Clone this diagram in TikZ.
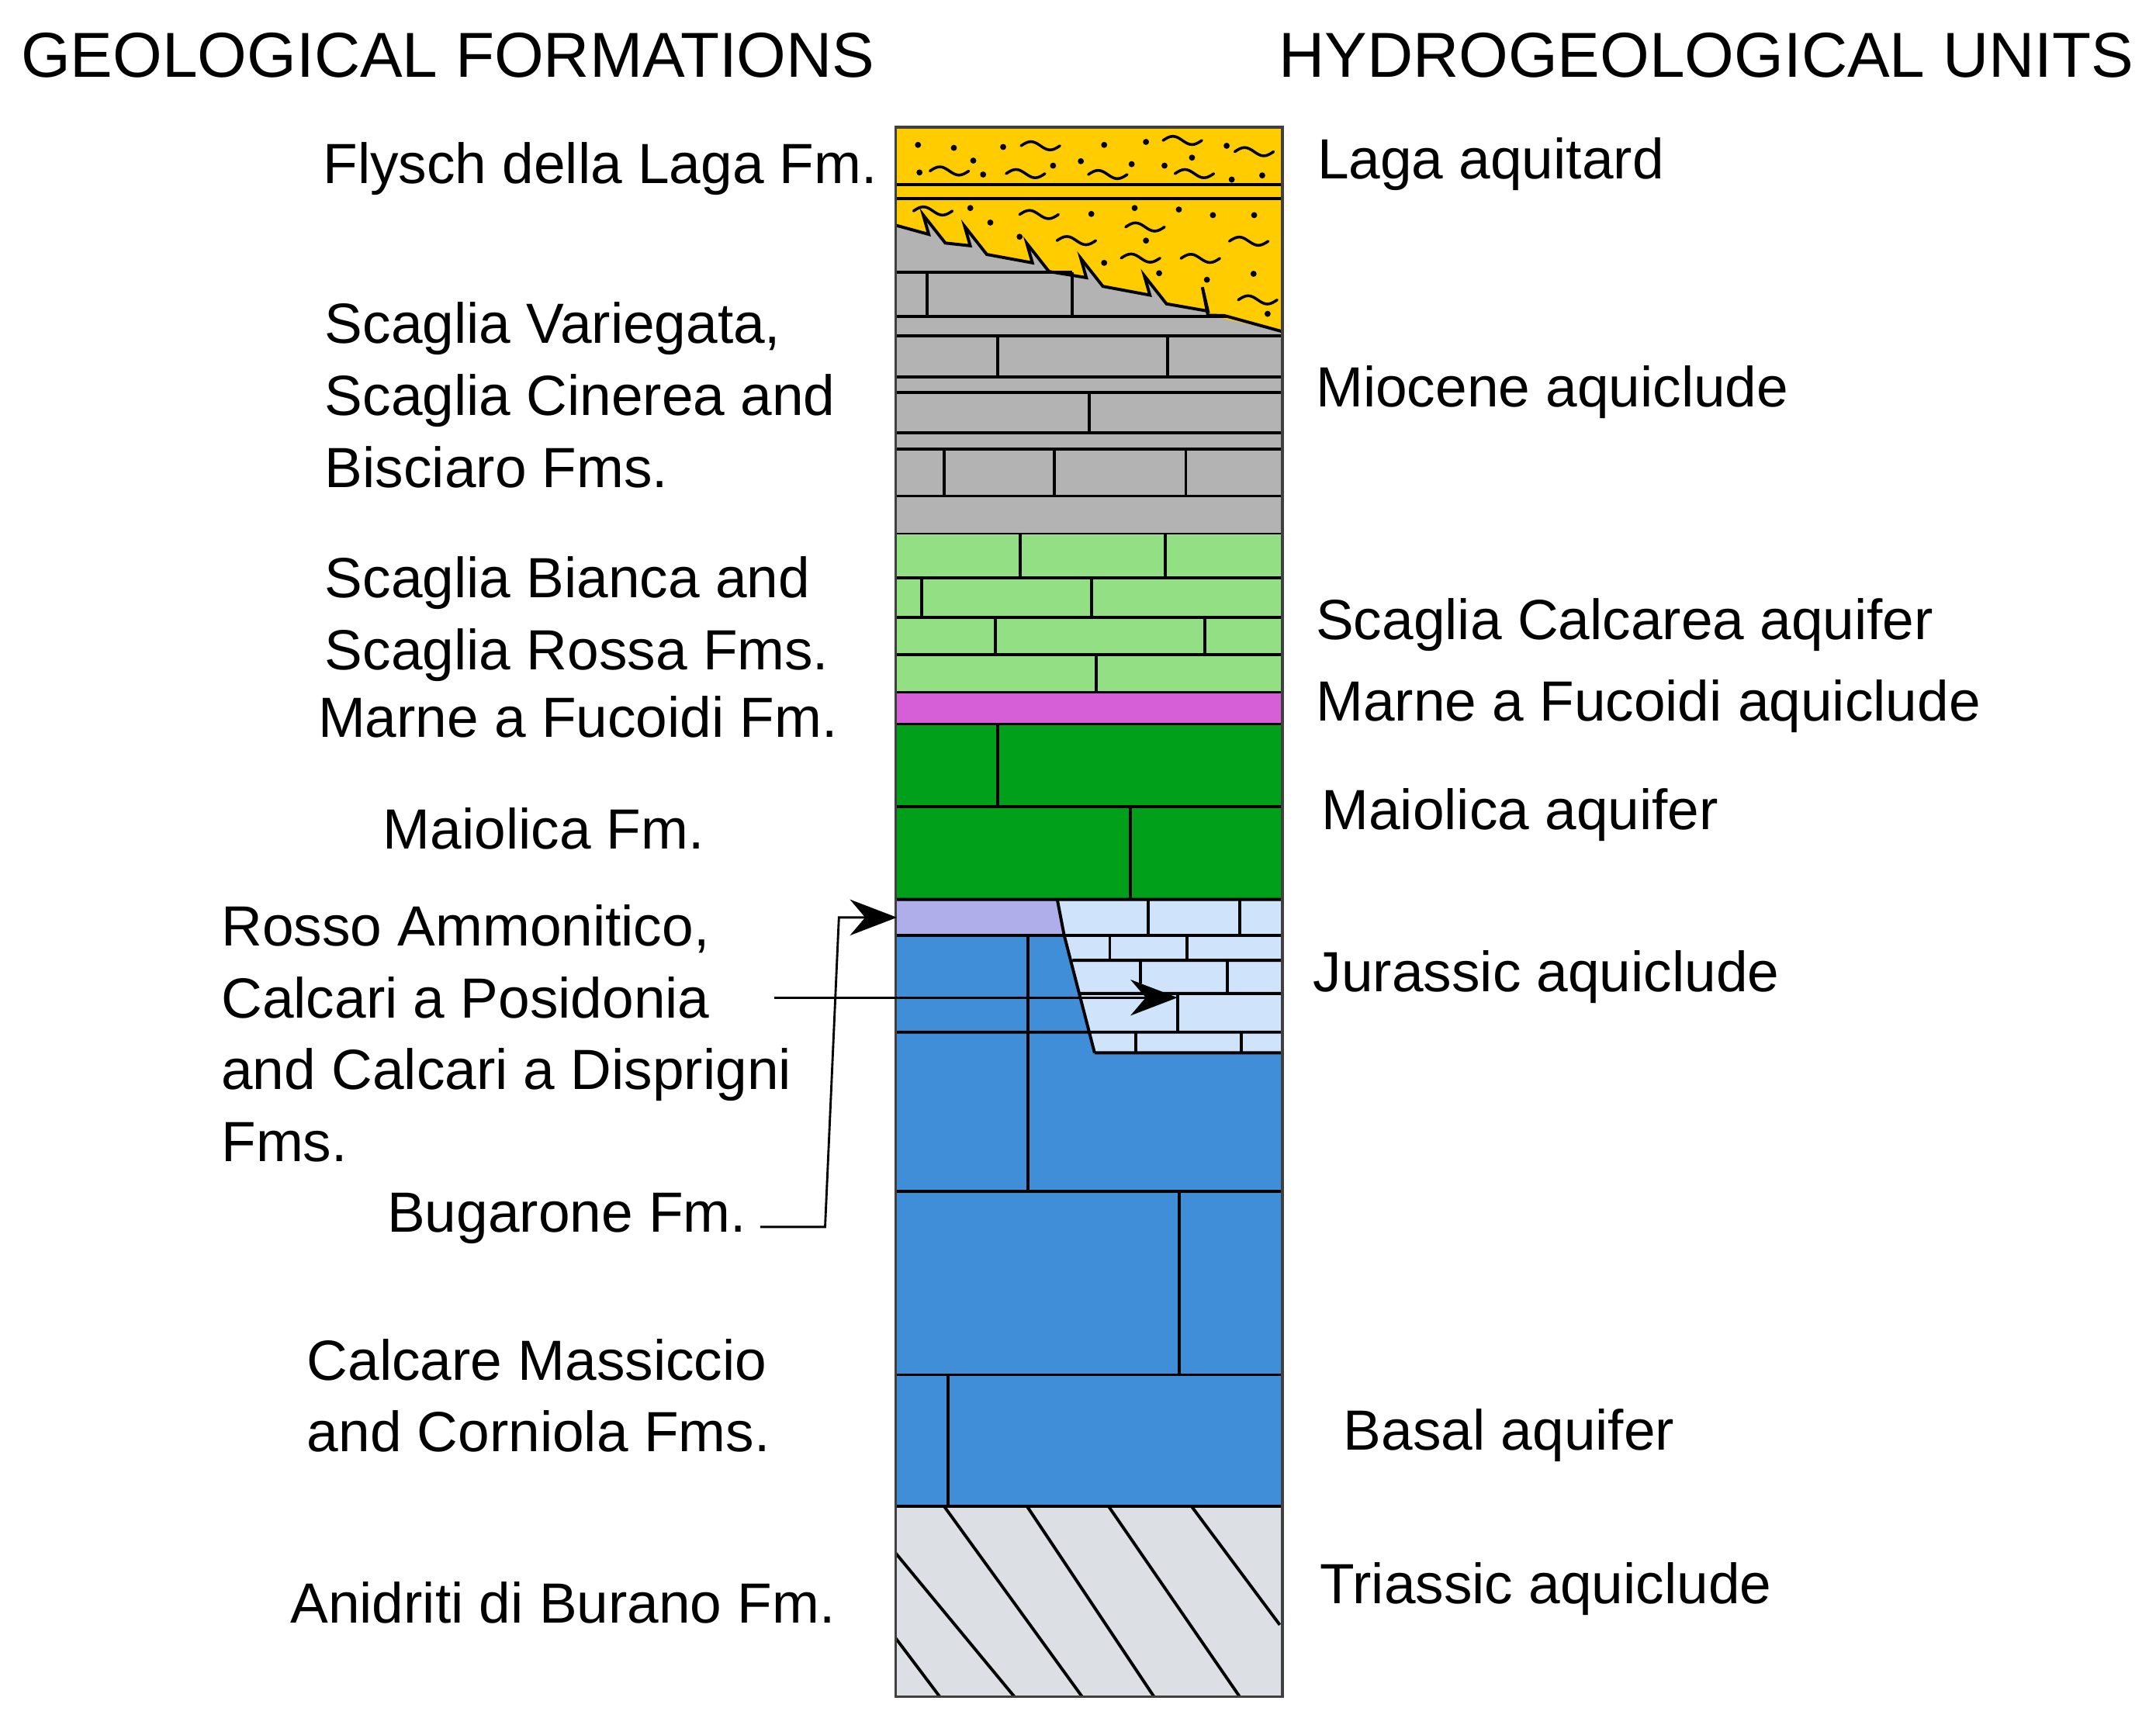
\documentclass[tikz,border=0pt]{standalone}
\usepackage{fontspec}
\setmainfont{Liberation Sans}
\usetikzlibrary{arrows.meta}
\definecolor{cYel}{HTML}{FFCC00}
\definecolor{cGry}{HTML}{B3B3B3}
\definecolor{cLgr}{HTML}{92E083}
\definecolor{cMag}{HTML}{D65ED6}
\definecolor{cDgr}{HTML}{00A01A}
\definecolor{cPur}{HTML}{B0AEEA}
\definecolor{cLbl}{HTML}{CFE3FA}
\definecolor{cBlu}{HTML}{418ED8}
\definecolor{cBgr}{HTML}{DCDFE3}
\newcommand\geoSq[2]{\draw[sqline] ({#1-65},#2) sin ({#1-32},{#2-14}) cos (#1,#2) sin ({#1+32},{#2+14}) cos ({#1+65},#2);}
\newcommand\geoDot[2]{\fill (#1,#2) circle[radius=2.2pt];}
\begin{document}
\begin{tikzpicture}[x=1pt,y=-1pt,
  lbl/.style={inner sep=0pt,font=\fontsize{41}{52}\selectfont,align=left},
  head/.style={inner sep=0pt,font=\fontsize{46}{56}\selectfont},
  ln/.style={line width=2.2pt},
  sqline/.style={line width=2pt,line cap=round},
  conn/.style={line width=1.6pt},
  arr/.style={conn,-{Stealth[length=34pt,width=26pt,inset=11pt]}}]
\useasboundingbox (0,0) rectangle (1560,1243.4);
% ---------- fills
\fill[cGry] (648,145) rectangle (928,386);
\fill[cYel] (648,92) rectangle (928,145);
\fill[cYel] (648,145) -- (928,145) -- (928,240)
  -- (874,{163+0.275*226+3}) -- ({874-4},{163+0.275*214-14}) -- (874,{163+0.275*226})
  -- (844,{163+0.275*196+3}) -- ({832-4},{163+0.275*184-14}) -- (832,{163+0.275*184})
  -- (798,{163+0.275*150+3}) -- ({786-4},{163+0.275*138-14}) -- (786,{163+0.275*138})
  -- (759,{163+0.275*111+3}) -- ({747-4},{163+0.275*99-14}) -- (747,{163+0.275*99})
  -- (714,{163+0.275*66+3}) -- ({702-4},{163+0.275*54-14}) -- (702,{163+0.275*54})
  -- (684,{163+0.275*36+3}) -- ({672-4},{163+0.275*24-14}) -- (672,{163+0.275*24})
  -- (648,163) -- cycle;
\draw[ln] (928,240)
  -- (886,{163+0.275*238}) -- (874,{163+0.275*226+3}) -- ({874-4},{163+0.275*214-14}) -- (874,{163+0.275*226})
  -- (844,{163+0.275*196+3}) -- ({832-4},{163+0.275*184-14}) -- (832,{163+0.275*184})
  -- (798,{163+0.275*150+3}) -- ({786-4},{163+0.275*138-14}) -- (786,{163+0.275*138})
  -- (759,{163+0.275*111+3}) -- ({747-4},{163+0.275*99-14}) -- (747,{163+0.275*99})
  -- (714,{163+0.275*66+3}) -- ({702-4},{163+0.275*54-14}) -- (702,{163+0.275*54})
  -- (684,{163+0.275*36+3}) -- ({672-4},{163+0.275*24-14}) -- (672,{163+0.275*24})
  -- (648,163);
% yellow pattern
\begin{scope}[shift={(619.9,80.2)},x=0.2162pt,y=-0.2145pt]
\foreach \a/\b in {205/115,325/125,490/122,828/115,968/105,1238/118,390/168,210/208,423/215,657/185,750/170,920/180,1030/185,1122/158,1255/232,1357/218,380/328,447/377,545/425,785/348,930/328,1078/333,1192/352,1330/352,968/438,828/513,1012/548,1172/570,1328/550,1375/685}{\geoDot{\a}{\b}}
\foreach \a/\b in {615/118,1090/100,1330/138,310/203,565/212,840/215,1130/212,255/338,610/350,965/392,735/438,950/497,1150/498,1312/440,1342/638}{\geoSq{\a}{\b}}
\end{scope}
\draw[ln] (648,133.5) -- (928,133.5) (648,143.5) -- (928,143.5);
% grey layer lines
\draw[ln] (648,197) -- (776,197) (648,229) -- (888,229) (648,243) -- (928,243)
  (648,273) -- (928,273) (648,284) -- (928,284) (648,313) -- (928,313)
  (648,325) -- (928,325) (648,359) -- (928,359) (648,387) -- (928,387);
\draw[ln] (671,197) -- (671,229) (776,197) -- (776,229)
  (722,243) -- (722,273) (845,243) -- (845,273)
  (788,284) -- (788,313)
  (683,325) -- (683,359) (763,325) -- (763,359) (858,325) -- (858,359);
% light green
\fill[cLgr] (648,387) rectangle (928,501);
\draw[ln] (648,418) -- (928,418) (648,447) -- (928,447) (648,474) -- (928,474) (648,501) -- (928,501);
\draw[ln] (738,387) -- (738,418) (843,387) -- (843,418)
  (667,418) -- (667,447) (790,418) -- (790,447)
  (720,447) -- (720,474) (872,447) -- (872,474)
  (793,474) -- (793,501);
% magenta
\fill[cMag] (648,502) rectangle (928,524);
\draw[ln] (648,524) -- (928,524);
% dark green
\fill[cDgr] (648,525) rectangle (928,651);
\draw[ln] (648,584) -- (928,584) (722,525) -- (722,584) (818,584) -- (818,651) (648,651) -- (928,651);
% blue
\fill[cBlu] (648,652) rectangle (928,1090);
\fill[cPur] (648,652) -- (765,652) -- (770,677) -- (648,677) -- cycle;
\fill[cLbl] (765,652) -- (928,652) -- (928,762) -- (792,762) -- cycle;
\draw[ln] (648,651) -- (928,651) (648,677) -- (928,677) (776,695) -- (928,695)
  (781,719) -- (928,719) (648,747) -- (928,747) (792,762) -- (928,762)
  (765,651) -- (770,677) -- (792,762);
\draw[ln] (831,652) -- (831,677) (897,652) -- (897,677)
  (803,677) -- (803,695) (859,677) -- (859,695)
  (825,695) -- (825,712) (888,695) -- (888,719)
  (852,719) -- (852,747)
  (822,747) -- (822,762) (898,747) -- (898,762);
\draw[ln] (744,677) -- (744,862) (648,862) -- (928,862) (853,862) -- (853,995)
  (648,995) -- (928,995) (686,995) -- (686,1090) (648,1090) -- (928,1090);
% bottom grey
\fill[cBgr] (648,1091) rectangle (928,1228);
\begin{scope}
\clip (648,1091) rectangle (928,1228);
\draw[ln] (648,1185.5) -- (680,1228) (648,1124) -- (734,1228)
  (683,1090) -- (783,1228) (743,1090) -- (835,1228) (802,1090) -- (897,1228)
  (862,1090) -- (926,1176);
\end{scope}
\draw[line width=2pt,draw=black!75] (648,92) rectangle (928,1228);
% ---------- texts
\node[head,anchor=west] (hl) at (15,40) {GEOLOGICAL FORMATIONS};
\node[head,anchor=west] (hr) at (925,40) {HYDROGEOLOGICAL UNITS};
\node[lbl,anchor=east] (f1) at (635,122) {Flysch della Laga Fm.};
\node[lbl,anchor=west] (f2) at (235,286) {Scaglia Variegata,\\Scaglia Cinerea and\\Bisciaro Fms.};
\node[lbl,anchor=west] (f3) at (235,448) {Scaglia Bianca and\\Scaglia Rossa Fms.};
\node[lbl,anchor=west] (f4) at (230,519) {Marne a Fucoidi Fm.};
\node[lbl,anchor=west] (f5) at (277,600) {Maiolica Fm.};
\node[lbl,anchor=west] (f6) at (160,748) {Rosso Ammonitico,\\Calcari a Posidonia\\and Calcari a Disprigni\\Fms.};
\node[lbl,anchor=west] (f7) at (280,882) {Bugarone Fm.};
\node[lbl,anchor=west] (f8) at (222,1010) {Calcare Massiccio\\and Corniola Fms.};
\node[lbl,anchor=west] (f9) at (210,1160) {Anidriti di Burano Fm.};
\node[lbl,anchor=west] (u1) at (953,119) {Laga aquitard};
\node[lbl,anchor=west] (u2) at (952,284) {Miocene aquiclude};
\node[lbl,anchor=west] (u3) at (952,452) {Scaglia Calcarea aquifer};
\node[lbl,anchor=west] (u4) at (952,511) {Marne a Fucoidi aquiclude};
\node[lbl,anchor=west] (u5) at (956,590) {Maiolica aquifer};
\node[lbl,anchor=west] (u6) at (950,707) {Jurassic aquiclude};
\node[lbl,anchor=west] (u7) at (972,1039) {Basal aquifer};
\node[lbl,anchor=west] (u8) at (955,1150) {Triassic aquiclude};
% ---------- connectors
\coordinate (bA) at (550,888);
\coordinate (bB) at (597,888);
\coordinate (bC) at (607,664);
\coordinate (purL) at (649,664);
\coordinate (rA) at (560,722);
\coordinate (lblu) at (852,722);
\draw[arr] (bA) -- (bB) -- (bC) -- (purL);
\draw[arr] (rA) -- (lblu);
\end{tikzpicture}
\end{document}
